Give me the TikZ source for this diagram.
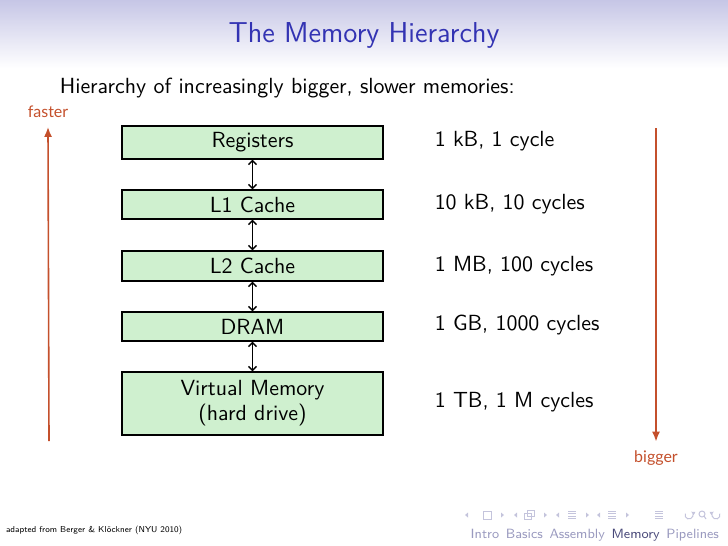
\documentclass[tikz,border=0pt]{standalone}
\usepackage{fontspec}
\usepackage{tikz}
\usetikzlibrary{arrows.meta}
\newfontfamily\notefont{Lato}

\definecolor{headtop}{HTML}{C6C6E6}
\definecolor{titleblue}{HTML}{3333B3}
\definecolor{notered}{HTML}{C4502C}
\definecolor{boxgreen}{HTML}{CFF0CF}
\definecolor{navgray}{HTML}{9A9ABF}
\definecolor{navdark}{HTML}{4A4A7A}
\definecolor{navsym}{HTML}{C4C4DC}

\tikzset{
  memblock/.style={draw, fill=boxgreen, line width=0.7pt,
    minimum width=130.5pt, inner sep=0pt, align=center},
  memlink/.style={{Straight Barb[length=2pt,width=4pt]}-{Straight Barb[length=2pt,width=4pt]},
    line width=0.65pt},
  costlabel/.style={anchor=west},
  trend/.style={notered, line width=0.8pt, -{Latex[length=5pt,width=4pt]}},
  navtri/.style={navsym, fill=navsym}
}

\begin{document}
\begin{tikzpicture}[x=0.5pt, y=-0.5pt, every node/.style={font=\sffamily\fontsize{10.95}{12.5}\selectfont}]
  \useasboundingbox (0,0) rectangle (728,546);
  \shade[top color=headtop, bottom color=white] (0,0) rectangle (728,68);

  \node[titleblue, font=\sffamily\fontsize{14.4}{17}\selectfont] (title) at (364,35) {The Memory Hierarchy};
  \node[anchor=west] (intro) at (52.7,88) {Hierarchy of increasingly bigger, slower memories:};

  % memory levels
  \node[memblock, minimum height=16.5pt] (reg) at (252.5,142.5) {Registers};
  \node[memblock, minimum height=14.5pt] (l1) at (252.5,204.5) {L1 Cache};
  \node[memblock, minimum height=15pt] (l2) at (252.5,266) {L2 Cache};
  \node[memblock, minimum height=14.5pt] (dram) at (252.5,326.5) {DRAM};
  \node[memblock, minimum height=31.5pt] (vm) at (252.5,403.5) {Virtual Memory\\(hard drive)};

  \draw[memlink] (reg) -- (l1);
  \draw[memlink] (l1) -- (l2);
  \draw[memlink] (l2) -- (dram);
  \draw[memlink] (dram) -- (vm);

  % sizes and latencies
  \node[costlabel] (creg) at (427.7,141) {1 kB, 1 cycle};
  \node[costlabel] (cl1) at (427.7,204) {10 kB, 10 cycles};
  \node[costlabel] (cl2) at (427.7,266) {1 MB, 100 cycles};
  \node[costlabel] (cdram) at (427.7,325) {1 GB, 1000 cycles};
  \node[costlabel] (cvm) at (427.7,402) {1 TB, 1 M cycles};

  % trends
  \node[notered, font=\notefont\fontsize{8}{10}\selectfont] (faster) at (48,112) {faster};
  \node[notered, font=\notefont\fontsize{8}{10}\selectfont] (bigger) at (656,458) {bigger};
  \coordinate (fastfoot) at (49,441);
  \coordinate (bighead) at (656,128);
  \draw[trend] (fastfoot) -- ([yshift=-1pt]faster.south);
  \draw[trend] (bighead) -- ([yshift=1pt]bigger.north);

  % footer
  \node[anchor=west, font=\sffamily\fontsize{4.3}{5}\selectfont] (credit) at (-1,530) {adapted from Berger \& Kl\"ockner (NYU 2010)};
  \node[anchor=east, navgray, font=\sffamily\fontsize{6.7}{7}\selectfont] (sections) at (726,535)
    {Intro\enspace Basics\enspace Assembly\enspace \textcolor{navdark}{Memory}\enspace Pipelines};

  % navigation symbols
  \foreach \lx/\rx in {467/502, 516/545, 558/587, 599/627} {
    \fill[navtri] (\lx-2,515) -- (\lx+1,512.5) -- (\lx+1,517.5) -- cycle;
    \fill[navtri] (\rx+2,515) -- (\rx-1,512.5) -- (\rx-1,517.5) -- cycle;
  }
  \draw[navsym, line width=0.4pt] (483,511) rectangle (491,519);
  \draw[navsym, line width=0.4pt] (524,513) rectangle (531,519);
  \draw[navsym, line width=0.4pt] (527,510) rectangle (534,516);
  \foreach \cx in {572, 612, 659} {
    \foreach \dy in {511, 513.5, 516, 518.5}
      \draw[navsym, line width=0.4pt] (\cx-4,\dy) -- (\cx+4,\dy);
  }
  \draw[navsym, line width=0.5pt, -{Latex[length=2pt,width=2pt]}] ([shift={(200:4)}]689,515) arc[start angle=200, end angle=-60, radius=4];
  \draw[navsym, line width=0.5pt] (702,514) circle[radius=3];
  \draw[navsym, line width=0.5pt] (704,516) -- (706,519);
  \draw[navsym, line width=0.5pt, -{Latex[length=2pt,width=2pt]}] ([shift={(-20:4)}]716,515) arc[start angle=-20, end angle=240, radius=4];
\end{tikzpicture}
\end{document}
